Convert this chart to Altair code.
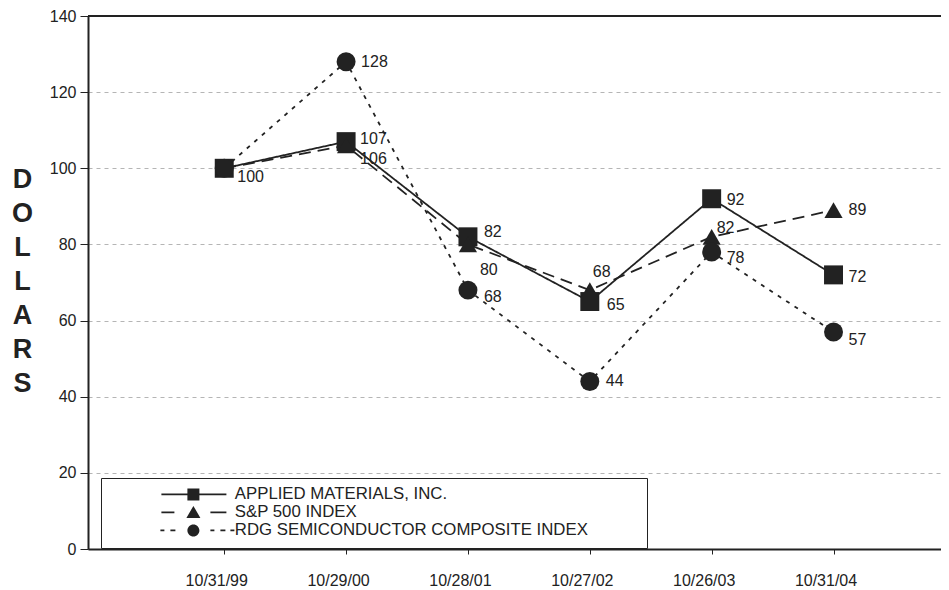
import altair as alt
import pandas as pd

dates = ["10/31/99", "10/29/00", "10/28/01", "10/27/02", "10/26/03", "10/31/04"]
series_names = ["APPLIED MATERIALS, INC.", "S&P 500 INDEX", "RDG SEMICONDUCTOR COMPOSITE INDEX"]
amat = [100, 107, 82, 65, 92, 72]
spx = [100, 106, 80, 68, 82, 89]
rdg = [100, 128, 68, 44, 78, 57]
y_ticks = [0, 20, 40, 60, 80, 100, 120, 140]

values = [amat, spx, rdg]
rows = []
for s, vals in zip(series_names, values):
    for d, v in zip(dates, vals):
        rows.append({"series": s, "date": d, "value": v})
df = pd.DataFrame(rows)

INK = "#222222"
FONT = "Liberation Sans"
dashes = [[1, 0], [12, 7], [4, 6]]
shapes = ["square", "triangle-up", "circle"]

# legend glyphs: line segments drawn as thin filled bars + marker (symbol units: 1 unit = 8 px)
U = 8.0


def bar(x0, x1, h=0.8):
    return f"M{x0/U:.3f},{-h/U:.3f}L{x1/U:.3f},{-h/U:.3f}L{x1/U:.3f},{h/U:.3f}L{x0/U:.3f},{h/U:.3f}Z"


sq = f"M{-6/U},{-6/U}L{6/U},{-6/U}L{6/U},{6/U}L{-6/U},{6/U}Z"
tri = f"M0,{-6.5/U}L{7/U},{5.5/U}L{-7/U},{5.5/U}Z"
r = 6 / U
circ = f"M{r},0A{r},{r},0,1,1,{-r},0A{r},{r},0,1,1,{r},0Z"
legend_paths = [
    bar(-32, 33) + sq,
    bar(-32, -19) + bar(17, 33) + tri,
    bar(-33, -29) + bar(-23, -18) + bar(17, 21) + bar(27, 32) + bar(37, 41) + circ,
]

# label offsets (dx, dy) keyed by (series index, date index)
label_offsets = {
    (0, 0): (13, 9), (0, 1): (14, -3), (0, 2): (16, -5), (0, 3): (17, 3), (0, 4): (15, 1), (0, 5): (15, 2),
    (1, 1): (14, 14), (1, 2): (12, 26), (1, 3): (3, -18), (1, 4): (5, -9), (1, 5): (15, 0),
    (2, 1): (15, 0), (2, 2): (16, 7), (2, 3): (16, 0), (2, 4): (15, 6), (2, 5): (15, 8),
}

x_enc = alt.X("date:N", sort=dates,
              scale=alt.Scale(type="point", domain=dates, padding=1.0074, align=0.559),
              axis=alt.Axis(title=None, labelFontSize=16, labelFont=FONT, labelColor=INK,
                            labelPadding=18, labelOffset=-8, tickSize=5, tickColor=INK,
                            domainColor=INK, domainWidth=2, grid=False, labelAngle=0))
y_enc = alt.Y("value:Q",
              scale=alt.Scale(domain=[0, 140], nice=False, zero=True),
              axis=alt.Axis(values=y_ticks, title=["D", "O", "L", "L", "A", "R", "S"],
                            titleAngle=0, titleFontSize=27, titleFontWeight="bold",
                            titleFont=FONT, titleColor=INK, titleLineHeight=34,
                            titleX=-66, titleY=163, titleAlign="center", titleBaseline="middle",
                            labelFontSize=16, labelFont=FONT, labelColor=INK, labelPadding=4,
                            tickSize=8, tickColor=INK, domainColor=INK, domainWidth=2,
                            grid=True, gridColor="#b5b5b5", gridDash=[4, 4], gridWidth=1))

base = alt.Chart(df)
layers = []

top_rule = alt.Chart(df).mark_rule(color=INK, strokeWidth=2).encode(y=alt.datum(140))
layers.append(top_rule)

for i, s in enumerate(series_names):
    line = base.transform_filter(alt.datum.series == s).mark_line(
        color=INK, strokeWidth=1.8, strokeDash=dashes[i]
    ).encode(x=x_enc, y=y_enc)
    layers.append(line)

for i, s in enumerate(series_names):
    pts = base.transform_filter(alt.datum.series == s).mark_point(
        shape=shapes[i], filled=True, color=INK, opacity=1, size=360 if i != 1 else 330
    ).encode(x=x_enc, y=y_enc)
    layers.append(pts)

legend_layer = base.mark_point(filled=False, fill=INK, stroke=INK, color=INK,
                               strokeWidth=0, size=0).encode(
    x=x_enc, y=y_enc,
    shape=alt.Shape("series:N", sort=series_names,
                    scale=alt.Scale(domain=series_names, range=legend_paths),
                    legend=alt.Legend(
                        title=" ", titleOrient="right", titlePadding=51, titleFontSize=14,
                        orient="none", legendX=13, legendY=462,
                        strokeColor=INK, fillColor="white", padding=8,
                        symbolSize=256, symbolOffset=76, labelOffset=33,
                        rowPadding=-2, labelFontSize=16.8, labelFont=FONT,
                        labelColor=INK, symbolOpacity=1, symbolStrokeWidth=0,
                        symbolFillColor=INK, labelLimit=600,
                    )),
)
layers.append(legend_layer)

for (si, di), (dx, dy) in label_offsets.items():
    s = series_names[si]
    d = dates[di]
    txt = base.transform_filter(
        (alt.datum.series == s) & (alt.datum.date == d)
    ).mark_text(align="left", baseline="middle", dx=dx, dy=dy, fontSize=16, font=FONT, color=INK).encode(
        x=x_enc, y=y_enc, text=alt.Text("value:Q")
    )
    layers.append(txt)

chart = alt.layer(*layers).properties(
    width=853, height=533,
    autosize=alt.AutoSizeParams(type="none"),
    padding={"left": 80, "top": 8, "right": 0, "bottom": 40},
).configure_view(stroke=None).configure(background="white")

chart.save("out.html", embed_options={"renderer": "svg", "actions": False})
